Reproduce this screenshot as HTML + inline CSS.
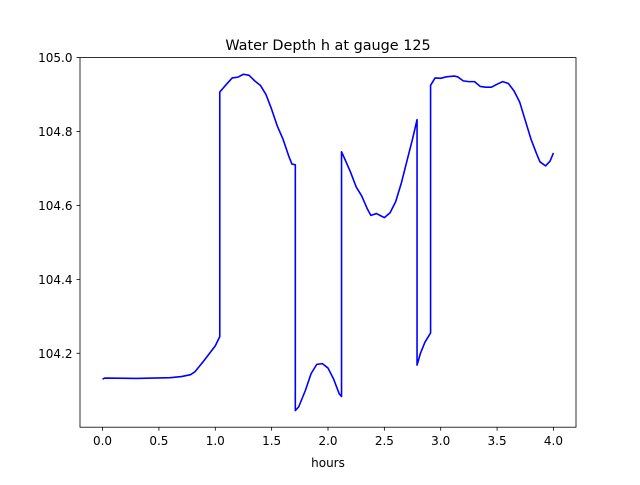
<!DOCTYPE html>
<html><head><meta charset="utf-8"><style>
body{margin:0;background:#fff}
svg text{font-family:"DejaVu Sans","Liberation Sans",sans-serif;fill:#000}
</style></head><body>
<svg id="c" width="640" height="480" xmlns="http://www.w3.org/2000/svg">
<rect width="640" height="480" fill="#fff"/>
<text x="328" y="50" text-anchor="middle" font-size="14.4">Water Depth h at gauge 125</text>
<text x="328" y="467" text-anchor="middle" font-size="12">hours</text>
<g id="ticks"></g>
<polyline id="line" fill="none" stroke="#0000ff" stroke-width="1.6" stroke-linejoin="round"/>
<rect x="80" y="57.6" width="496" height="369.6" fill="none" stroke="#000" stroke-width="0.8"/>
</svg>
<script>
const hours=[0,0.02,0.3,0.6,0.7,0.78,0.82,0.9,1.0,1.04,1.04,1.1,1.15,1.2,1.25,1.3,1.35,1.4,1.45,1.5,1.55,1.6,1.65,1.68,1.71,1.71,1.74,1.8,1.85,1.9,1.95,2.0,2.05,2.1,2.12,2.12,2.15,2.2,2.25,2.3,2.35,2.38,2.43,2.5,2.55,2.6,2.65,2.7,2.75,2.79,2.79,2.82,2.86,2.9,2.91,2.91,2.95,3.0,3.05,3.12,3.15,3.2,3.25,3.3,3.35,3.4,3.45,3.5,3.55,3.6,3.65,3.7,3.75,3.8,3.85,3.88,3.93,3.97,4.0];
const depth=[104.130,104.133,104.132,104.134,104.137,104.142,104.15,104.18,104.22,104.245,104.907,104.928,104.945,104.947,104.955,104.952,104.937,104.925,104.90,104.86,104.815,104.78,104.735,104.712,104.71,104.045,104.055,104.10,104.145,104.17,104.172,104.16,104.13,104.09,104.083,104.745,104.725,104.69,104.65,104.625,104.59,104.573,104.578,104.567,104.58,104.61,104.66,104.72,104.78,104.832,104.168,104.2,104.23,104.25,104.255,104.925,104.945,104.944,104.948,104.95,104.948,104.937,104.935,104.935,104.922,104.92,104.92,104.928,104.935,104.93,104.91,104.88,104.83,104.78,104.74,104.718,104.707,104.72,104.742];
const xTicks=[0,0.5,1,1.5,2,2.5,3,3.5,4];
const yTicks=[104.2,104.4,104.6,104.8,105.0];
const X=v=>80+(v+0.2)/4.4*496;
const Y=v=>427.2-(v-104.0)/1.0*369.6;
const NS="http://www.w3.org/2000/svg";
const g=document.getElementById('ticks');
function mk(t,a){const e=document.createElementNS(NS,t);for(const k in a)e.setAttribute(k,a[k]);g.appendChild(e);return e;}
xTicks.forEach(v=>{
 const l=mk('line',{x1:X(v),x2:X(v),y1:427.2,y2:430.7,stroke:'#000','stroke-width':0.8});
 
 
 const t=mk('text',{x:X(v),y:445,'text-anchor':'middle','font-size':12});
 t.textContent=v.toFixed(1);
 
 
});
yTicks.forEach(v=>{
 const l=mk('line',{x1:76.5,x2:80,y1:Y(v),y2:Y(v),stroke:'#000','stroke-width':0.8});
 
 
 const t=mk('text',{x:72.5,y:Y(v)+4.5,'text-anchor':'end','font-size':12});
 t.textContent=v.toFixed(1);
 
 
});
document.getElementById('line').setAttribute('points',hours.map((h,i)=>X(h).toFixed(2)+','+Y(depth[i]).toFixed(2)).join(' '));
</script>
</body></html>
